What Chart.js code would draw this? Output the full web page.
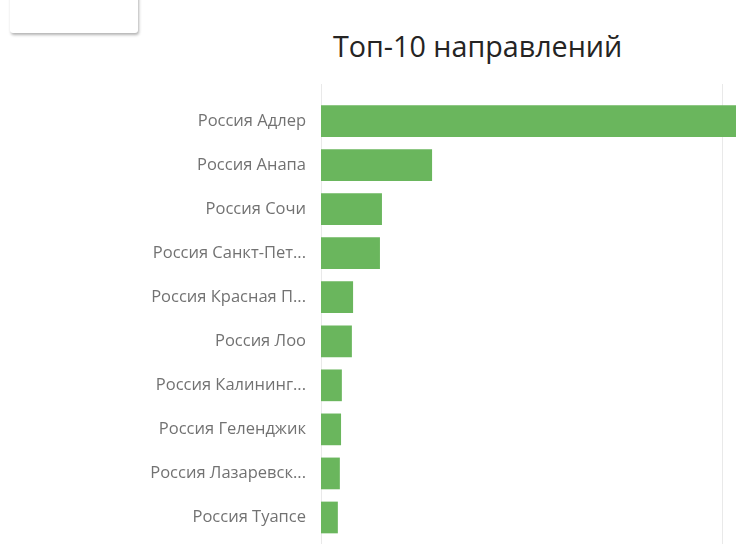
<!DOCTYPE html>
<html>
<head>
<meta charset="utf-8">
<script src="https://cdn.jsdelivr.net/npm/chart.js@4"></script>
<style>
  html, body { margin: 0; padding: 0; background: #ffffff; }
  body { width: 736px; height: 544px; position: relative; overflow: hidden; }
  #card { position: absolute; left: 10px; top: -20px; width: 128px; height: 53px; background: #fff;
          border-radius: 3px; box-shadow: 1px 2px 3px rgba(0,0,0,0.3); }
  #title { position: absolute; left: 333px; top: 26px; font-family: "Open Sans", sans-serif; font-size: 28.7px;
           color: #252423; white-space: nowrap; line-height: 40px; }
  #wrap { position: absolute; left: 0; top: 0; width: 736px; height: 544px; }
</style>
</head>
<body>
<div id="card"></div>
<div id="title">Топ-10 направлений</div>
<div id="wrap"><canvas id="c" width="736" height="544"></canvas></div>
<script>
const categories = [
  "Россия Адлер",
  "Россия Анапа",
  "Россия Сочи",
  "Россия Санкт-Пет...",
  "Россия Красная П...",
  "Россия Лоо",
  "Россия Калининг...",
  "Россия Геленджик",
  "Россия Лазаревск...",
  "Россия Туапсе"
];
const values = [105, 27.7, 15.2, 14.7, 8.0, 7.7, 5.2, 5.0, 4.7, 4.2];
const gridValues = [0, 100];

const gridPlugin = {
  id: 'vgrid',
  beforeDatasetsDraw(chart) {
    const ctx = chart.ctx, xs = chart.scales.x;
    ctx.save();
    ctx.strokeStyle = '#e9e9e9';
    ctx.lineWidth = 1;
    gridValues.forEach(v => {
      const px = Math.round(xs.getPixelForValue(v)) + 0.5;
      ctx.beginPath();
      ctx.moveTo(px, 84);
      ctx.lineTo(px, chart.height);
      ctx.stroke();
    });
    ctx.restore();
  }
};

new Chart(document.getElementById('c'), {
  type: 'bar',
  data: {
    labels: categories,
    datasets: [{
      data: values,
      backgroundColor: '#6ab65d',
      borderWidth: 0,
      categoryPercentage: 1,
      barPercentage: 0.72,
      clip: false
    }]
  },
  options: {
    indexAxis: 'y',
    responsive: false,
    animation: false,
    layout: { padding: { left: 0, right: 14, top: 99, bottom: 4.5 } },
    plugins: { legend: { display: false }, tooltip: { enabled: false }, title: { display: false } },
    scales: {
      x: { display: false, min: 0, max: 100 },
      y: {
        grid: { display: false, drawTicks: false },
        border: { display: false },
        ticks: { color: '#727272', padding: 15, font: { family: 'Open Sans', size: 16.5 } },
        afterFit(scale) { scale.width = 321; scale.paddingTop = 0; scale.paddingBottom = 0; }
      }
    }
  },
  plugins: [gridPlugin]
});
</script>
</body>
</html>
